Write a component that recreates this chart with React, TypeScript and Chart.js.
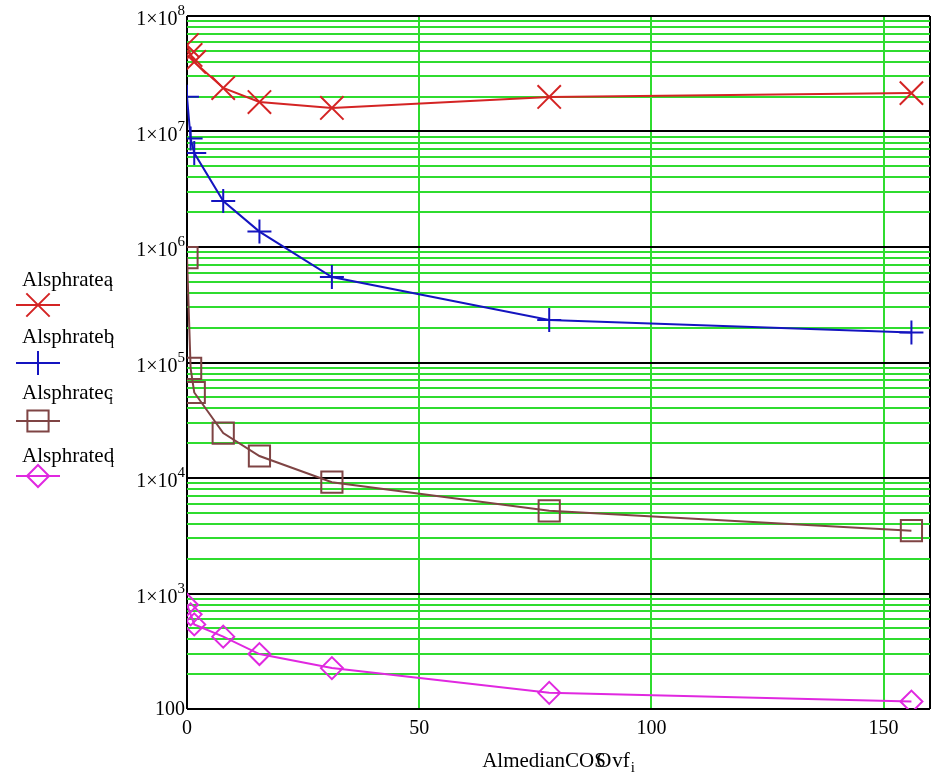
import React, { useEffect, useRef } from "react";
import { Chart, registerables } from "chart.js";

Chart.register(...registerables);

// Shared abscissa for every series
const xValues = [0, 0.78, 1.56, 7.8, 15.6, 31.2, 78, 156];

// Series values
const rateA = [5.6e7, 4.6e7, 4.0e7, 2.38e7, 1.8e7, 1.6e7, 1.99e7, 2.15e7];
const rateB = [2.0e7, 8.7e6, 6.5e6, 2.5e6, 1.36e6, 5.5e5, 2.33e5, 1.82e5];
const rateC = [8.1e5, 8.9e4, 5.5e4, 2.45e4, 1.55e4, 9.2e3, 5.2e3, 3.5e3];
const rateD = [800, 660, 540, 423, 299, 226, 138, 116];

const seriesNames = ["Alsphratea", "Alsphrateb", "Alsphratec", "Alsphrated"];
const seriesColors = ["#d42424", "#1414c0", "#7f4444", "#e028e0"];
const seriesMarkers = ["crossRot", "cross", "rect", "rectRot"];
const seriesMarkerRadius = [16.5, 12, 15, 11];

// Axis ticks
const xTickValues = [0, 50, 100, 150];
const xMin = 0;
const xMax = 160;
const yDecadeExponents = [2, 3, 4, 5, 6, 7, 8];

const xTitleParts = ["AlmedianCO", "S", "O", "vf"];
const subscriptIndex = "i";

const GREEN = "#2fdc2f";
const SERIF = '"Liberation Serif", "Times New Roman", serif';

// Minor + major grid values on the log axis: 1..9 × 10^n, plus the top decade
function logGridValues(): number[] {
  const out: number[] = [];
  for (let i = 0; i < yDecadeExponents.length - 1; i++) {
    const base = Math.pow(10, yDecadeExponents[i]);
    for (let m = 1; m <= 9; m++) out.push(m * base);
  }
  out.push(Math.pow(10, yDecadeExponents[yDecadeExponents.length - 1]));
  return out;
}

function isDecade(v: number): boolean {
  const l = Math.log10(v);
  return Math.abs(l - Math.round(l)) < 1e-9;
}

function drawMarker(ctx: CanvasRenderingContext2D, style: string, x: number, y: number, r: number) {
  ctx.beginPath();
  if (style === "crossRot") {
    const a = r * Math.SQRT1_2;
    ctx.moveTo(x - a, y - a);
    ctx.lineTo(x + a, y + a);
    ctx.moveTo(x - a, y + a);
    ctx.lineTo(x + a, y - a);
  } else if (style === "cross") {
    ctx.moveTo(x - r, y);
    ctx.lineTo(x + r, y);
    ctx.moveTo(x, y - r);
    ctx.lineTo(x, y + r);
  } else if (style === "rect") {
    const s = r * Math.SQRT1_2;
    ctx.rect(x - s, y - s, 2 * s, 2 * s);
  } else {
    ctx.moveTo(x - r, y);
    ctx.lineTo(x, y - r);
    ctx.lineTo(x + r, y);
    ctx.lineTo(x, y + r);
    ctx.closePath();
  }
  ctx.stroke();
}

// Draws tick labels, axis title and the side legend
const annotationPlugin = {
  id: "mathcadText",
  afterDraw(chart: any) {
    const ctx: CanvasRenderingContext2D = chart.ctx;
    const xs = chart.scales.x;
    const ys = chart.scales.y;
    const area = chart.chartArea;
    ctx.save();
    ctx.fillStyle = "#000";
    ctx.textBaseline = "alphabetic";

    // x tick labels
    ctx.font = `20px ${SERIF}`;
    ctx.textAlign = "center";
    xTickValues.forEach((v) => {
      ctx.fillText(String(v), xs.getPixelForValue(v), area.bottom + 25);
    });

    // y tick labels: 1×10^n, last one plain
    const right = 185;
    yDecadeExponents.forEach((e, i) => {
      const py = ys.getPixelForValue(Math.pow(10, e));
      ctx.textAlign = "right";
      if (i === 0) {
        ctx.font = `20px ${SERIF}`;
        ctx.fillText(String(Math.pow(10, e)), right, py + 6);
      } else {
        ctx.font = `15px ${SERIF}`;
        const sup = String(e);
        const sw = ctx.measureText(sup).width;
        ctx.fillText(sup, right, py - 1);
        ctx.font = `20px ${SERIF}`;
        ctx.fillText("1×10", right - sw, py + 9);
      }
    });

    // x axis title with overstruck letters and subscript
    ctx.textAlign = "left";
    ctx.font = `21px ${SERIF}`;
    const wMain = ctx.measureText(xTitleParts[0]).width;
    const wO = ctx.measureText(xTitleParts[2]).width;
    const wTail = ctx.measureText(xTitleParts[3]).width;
    const total = wMain + 2 + wO + wTail + 6;
    let cx = (area.left + area.right) / 2 - total / 2;
    const ty = area.bottom + 58;
    ctx.fillText(xTitleParts[0], cx, ty);
    cx += wMain;
    ctx.fillText(xTitleParts[1], cx, ty);
    ctx.fillText(xTitleParts[2], cx + 2, ty);
    cx += 2 + wO + 1;
    ctx.fillText(xTitleParts[3], cx, ty);
    cx += wTail;
    ctx.font = `15px ${SERIF}`;
    ctx.fillText(subscriptIndex, cx + 1, ty + 5);

    // legend
    const labelY = [286, 343, 399, 462];
    const markY = [305, 363, 421, 476];
    seriesNames.forEach((name, i) => {
      ctx.fillStyle = "#000";
      ctx.font = `21px ${SERIF}`;
      ctx.textAlign = "left";
      ctx.fillText(name, 22, labelY[i]);
      const w = ctx.measureText(name).width;
      ctx.font = `15px ${SERIF}`;
      ctx.fillText(subscriptIndex, 22 + w - 4, labelY[i] + 5);

      ctx.strokeStyle = seriesColors[i];
      ctx.lineWidth = 2;
      ctx.beginPath();
      ctx.moveTo(16, markY[i]);
      ctx.lineTo(60, markY[i]);
      ctx.stroke();
      drawMarker(ctx, seriesMarkers[i], 38, markY[i], seriesMarkerRadius[i]);
    });
    ctx.restore();
  },
};

export default function App() {
  const canvasRef = useRef<HTMLCanvasElement | null>(null);

  useEffect(() => {
    if (!canvasRef.current) return;
    const series = [rateA, rateB, rateC, rateD];
    const chart = new Chart(canvasRef.current, {
      type: "line",
      data: {
        datasets: series.map((vals, i) => ({
          label: seriesNames[i],
          data: xValues.map((x, j) => ({ x, y: vals[j] })),
          borderColor: seriesColors[i],
          backgroundColor: "rgba(0,0,0,0)",
          borderWidth: 2,
          pointStyle: seriesMarkers[i] as any,
          pointRadius: seriesMarkerRadius[i],
          pointBorderWidth: 2,
          pointBorderColor: seriesColors[i],
          pointBackgroundColor: "rgba(0,0,0,0)",
          tension: 0,
          fill: false,
          clip: 0,
        })),
      },
      options: {
        responsive: false,
        animation: false,
        devicePixelRatio: 1,
        layout: { autoPadding: false, padding: { top: 16, right: 4, left: 0, bottom: 0 } },
        plugins: {
          legend: { display: false },
          tooltip: { enabled: false },
        },
        scales: {
          x: {
            type: "linear",
            min: xMin,
            max: xMax,
            afterBuildTicks: (s: any) => {
              s.ticks = [...xTickValues, xMax].map((v) => ({ value: v }));
            },
            afterFit: (s: any) => {
              s.height = 65;
            },
            ticks: { display: false },
            border: { display: false },
            grid: {
              drawTicks: false,
              lineWidth: 2,
              color: (c: any) =>
                c.tick && (c.tick.value === xMin || c.tick.value === xMax) ? "#000" : GREEN,
            },
          },
          y: {
            type: "logarithmic",
            min: Math.pow(10, yDecadeExponents[0]),
            max: Math.pow(10, yDecadeExponents[yDecadeExponents.length - 1]),
            afterBuildTicks: (s: any) => {
              s.ticks = logGridValues().map((v) => ({ value: v }));
            },
            afterFit: (s: any) => {
              s.width = 187;
            },
            ticks: { display: false },
            border: { display: false },
            grid: {
              drawTicks: false,
              lineWidth: 2,
              color: (c: any) => (c.tick && isDecade(c.tick.value) ? "#000" : GREEN),
            },
          },
        },
      },
      plugins: [annotationPlugin],
    });
    return () => chart.destroy();
  }, []);

  return (
    <div style={{ position: "fixed", left: 0, top: 0, width: 934, height: 774, background: "#fff" }}>
      <canvas ref={canvasRef} width={934} height={774} style={{ display: "block" }} />
    </div>
  );
}
